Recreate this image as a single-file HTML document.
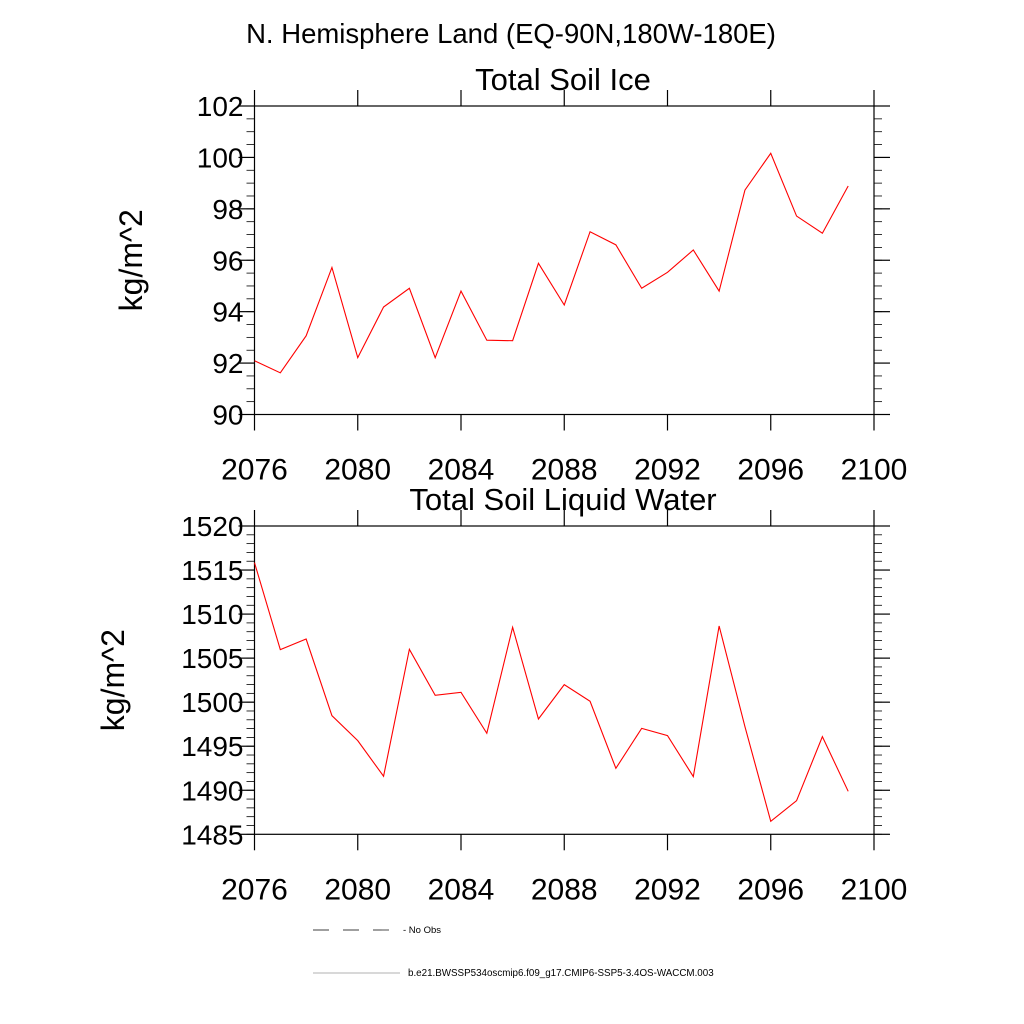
<!DOCTYPE html>
<html><head><meta charset="utf-8"><style>
html,body{margin:0;padding:0;background:#fff;}
svg{display:block;font-family:"Liberation Sans",sans-serif;}
</style></head><body>
<svg id="c" width="1024" height="1024" viewBox="0 0 1024 1024">
<text x="511" y="43" font-size="27.5" text-anchor="middle">N. Hemisphere Land (EQ-90N,180W-180E)</text>
<g id="legend">
<line x1="313" y1="930" x2="400" y2="930" stroke="#000" stroke-width="0.7" stroke-dasharray="16,14"/>
<text x="403" y="933" font-size="9.5">- No Obs</text>
<line x1="313" y1="973" x2="400" y2="973" stroke="#999" stroke-width="0.8"/>
<text x="408" y="976" font-size="9.8">b.e21.BWSSP534oscmip6.f09_g17.CMIP6-SSP5-3.4OS-WACCM.003</text>
</g>
</svg>
<script>
const years = [2076,2077,2078,2079,2080,2081,2082,2083,2084,2085,2086,2087,2088,2089,2090,2091,2092,2093,2094,2095,2096,2097,2098,2099];
const iceValues = [92.09,91.62,93.06,95.72,92.21,94.18,94.91,92.21,94.80,92.89,92.87,95.88,94.26,97.11,96.60,94.91,95.53,96.40,94.80,98.73,100.16,97.72,97.05,98.89];
const liqValues = [1515.84,1505.96,1507.17,1498.47,1495.63,1491.59,1506.0,1500.78,1501.12,1496.47,1508.50,1498.09,1501.99,1500.10,1492.49,1497.03,1496.20,1491.55,1508.65,1497.22,1486.48,1488.82,1496.09,1489.88];
const xTicks = [2076,2080,2084,2088,2092,2096,2100];
const iceTicks = [90,92,94,96,98,100,102];
const liqTicks = [1485,1490,1495,1500,1505,1510,1515,1520];

const NS='http://www.w3.org/2000/svg';
const svg=document.getElementById('c');
function mk(tag,attrs,parent){const e=document.createElementNS(NS,tag);for(const k in attrs)e.setAttribute(k,attrs[k]);(parent||svg).appendChild(e);return e;}

function panel(cfg){
  const g=mk('g',{});
  
  
  const L=254.5,R=874,T=cfg.top,B=cfg.bottom;
  const xs=v=>L+(v-2076)/(2100-2076)*(R-L);
  const ys=v=>B-(v-cfg.ymin)/(cfg.ymax-cfg.ymin)*(B-T);
  const fr=mk('rect',{x:L,y:T,width:R-L,height:B-T,fill:'none',stroke:'#000','stroke-width':1.2},g);
  
  
  for(let v=cfg.ymin;v<=cfg.ymax+1e-9;v+=cfg.minor){
    const y=ys(v);
    mk('line',{x1:L-8,y1:y,x2:L,y2:y,stroke:'#000','stroke-width':0.8},g);
    mk('line',{x1:R,y1:y,x2:R+8,y2:y,stroke:'#000','stroke-width':0.8},g);
  }
  cfg.ticks.forEach(v=>{
    const y=ys(v);
    mk('line',{x1:L-16,y1:y,x2:L,y2:y,stroke:'#000','stroke-width':1.2},g);
    mk('line',{x1:R,y1:y,x2:R+16,y2:y,stroke:'#000','stroke-width':1.2},g);
    const t=mk('text',{x:L-11,y:y+10,'font-size':28,'text-anchor':'end'},g);
    t.textContent=v;
    
    
  });
  xTicks.forEach(v=>{
    const x=xs(v);
    mk('line',{x1:x,y1:T-16,x2:x,y2:T,stroke:'#000','stroke-width':1.2},g);
    mk('line',{x1:x,y1:B,x2:x,y2:B+16,stroke:'#000','stroke-width':1.2},g);
    const t=mk('text',{x:x,y:B+65,'font-size':30,'text-anchor':'middle'},g);
    t.textContent=v;
    
    
  });
  const pts=years.map((yr,i)=>xs(yr)+','+ys(cfg.values[i])).join(' ');
  const pl=mk('polyline',{points:pts,fill:'none',stroke:'#ff0000','stroke-width':1.1},g);
  
  
  const tt=mk('text',{x:563,y:T-16,'font-size':31,'text-anchor':'middle'},g);
  tt.textContent=cfg.title;
  
  
  const cy=(T+B)/2;
  const yt=mk('text',{x:cfg.ytx,y:cy,'font-size':32,'text-anchor':'middle',transform:'rotate(-90 '+cfg.ytx+' '+cy+')'},g);
  yt.textContent='kg/m^2';
  
  
}
panel({name:'soil-ice-panel',top:106,bottom:414.5,ymin:90,ymax:102,minor:0.5,ticks:iceTicks,values:iceValues,title:'Total Soil Ice',ytx:142});
panel({name:'soil-liquid-panel',top:526,bottom:834.3,ymin:1485,ymax:1520,minor:1,ticks:liqTicks,values:liqValues,title:'Total Soil Liquid Water',ytx:124});
</script>
</body></html>
